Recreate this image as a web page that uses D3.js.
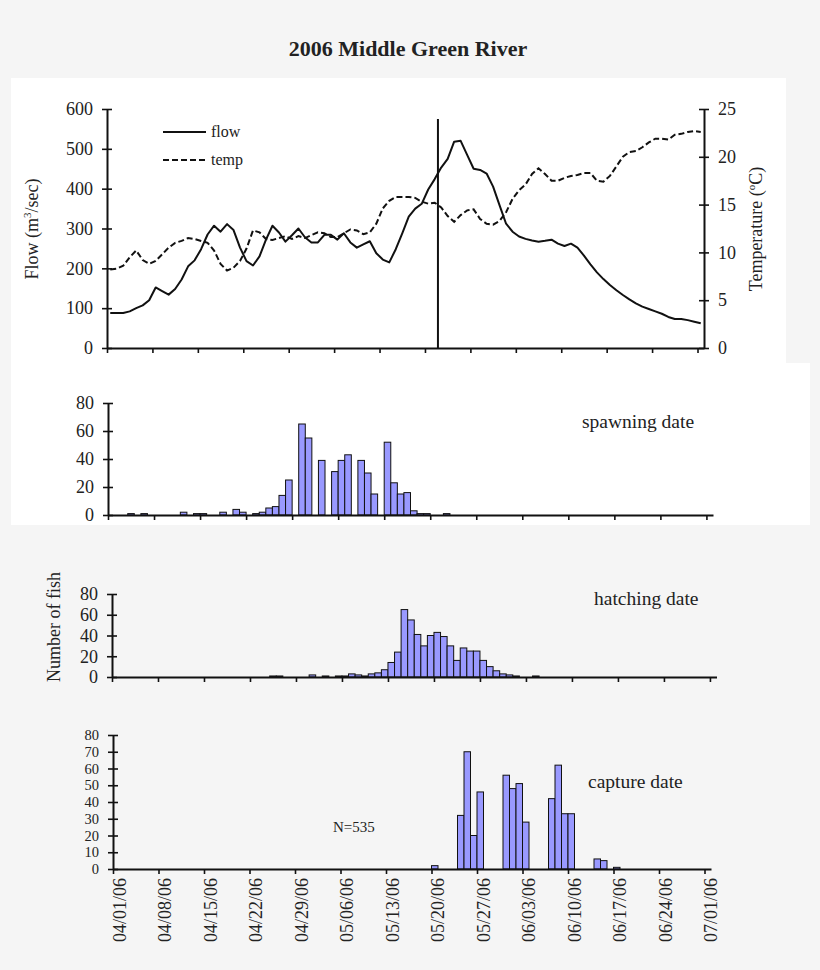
<!DOCTYPE html>
<html>
<head>
<meta charset="utf-8">
<script src="https://cdn.jsdelivr.net/npm/d3@7"></script>
<style>
  body { margin: 0; background: #f5f5f5; }
  svg { display: block; }
  text { font-family: "Liberation Serif", "Times New Roman", serif; fill: #222; }
</style>
</head>
<body>
<script>
// ---- data ----
const startDate = "04/01/06"
const endDate = "07/02/06"
const xTickLabels = ["04/01/06", "04/08/06", "04/15/06", "04/22/06", "04/29/06", "05/06/06", "05/13/06",
    "05/20/06", "05/27/06", "06/03/06", "06/10/06", "06/17/06", "06/24/06", "07/01/06"]

// daily mean flow (m3/sec), 04/01 .. 07/01
const flow = [88, 88, 88, 92, 100, 107, 120, 152, 143, 134, 148, 172, 205, 220, 248, 285, 307, 292, 311, 296,
    252, 218, 207, 230, 272, 307, 290, 267, 283, 300, 278, 265, 265, 284, 284, 272, 288, 265, 252, 260,
    268, 238, 222, 215, 248, 288, 330, 350, 362, 398, 424, 453, 475, 518, 520, 485, 450, 447, 438, 405,
    358, 312, 292, 280, 274, 270, 267, 269, 272, 262, 256, 262, 252, 232, 210, 190, 173, 158, 145, 133,
    122, 112, 104, 98, 92, 86, 78, 73, 73, 70, 66, 62]

// daily mean temperature (C), 04/01 .. 07/01
const temp = [8.2, 8.3, 8.6, 9.5, 10.2, 9.2, 8.8, 9.1, 9.8, 10.5, 11.0, 11.2, 11.5, 11.4, 11.2, 11.0, 10.2, 8.8, 8.1, 8.4,
    9.1, 10.4, 12.3, 12.1, 11.4, 11.3, 11.5, 11.7, 11.4, 11.7, 11.5, 11.8, 12.1, 12.0, 11.6, 11.6, 12.0, 12.4, 12.3, 11.9,
    12.1, 13.0, 14.6, 15.4, 15.8, 15.8, 15.8, 15.7, 15.3, 15.1, 15.2, 14.7, 13.8, 13.2, 13.9, 14.4, 14.5, 13.5, 13.0, 12.9,
    13.3, 14.2, 15.6, 16.5, 17.1, 18.2, 18.8, 18.2, 17.5, 17.5, 17.8, 18.0, 18.1, 18.3, 18.3, 17.5, 17.4, 18.0, 19.0, 20.0,
    20.5, 20.6, 21.0, 21.5, 21.9, 21.9, 21.8, 22.3, 22.4, 22.6, 22.7, 22.6]

const markerDate = "05/22/06"

// number of fish per day, day = days after 04/01/06
const spawnDay = [3, 5, 11, 13, 14, 17, 19, 20, 22, 23, 24, 25, 26, 27, 29, 30, 32, 34, 35, 36, 38, 39, 40, 42, 43, 44, 45, 46, 47, 48, 51]
const spawnCount = [1, 1, 2, 1, 1, 2, 4, 2, 1, 2, 5, 6, 14, 25, 65, 55, 39, 31, 39, 43, 39, 30, 15, 52, 23, 15, 16, 3, 1, 1, 1]

const hatchDay = [24, 25, 30, 32, 34, 35, 36, 37, 38, 39, 40, 41, 42, 43, 44, 45, 46, 47, 48, 49, 50, 51, 52, 53, 54, 55, 56, 57, 58, 59, 60, 61, 64]
const hatchCount = [1, 1, 2, 1, 1, 1, 3, 2, 1, 3, 4, 7, 14, 24, 65, 55, 41, 30, 40, 43, 39, 30, 16, 28, 25, 25, 16, 10, 6, 3, 2, 1, 1]

const captureDay = [49, 53, 54, 55, 56, 60, 61, 62, 63, 67, 68, 69, 70, 74, 75, 77]
const captureCount = [2, 32, 70, 20, 46, 56, 48, 51, 28, 42, 62, 33, 33, 6, 5, 1]

const flowTicks = [0, 100, 200, 300, 400, 500, 600]
const tempTicks = [0, 5, 10, 15, 20, 25]
const fishTicks = [0, 20, 40, 60, 80]
const captureTicks = [0, 10, 20, 30, 40, 50, 60, 70, 80]

// ---- drawing ----
const W = 820, H = 970
const parse = d3.timeParse("%m/%d/%y")
const t0 = parse(startDate), t1 = parse(endDate)
const tickDates = xTickLabels.map(parse)
const dayOf = i => d3.timeDay.offset(t0, i)
const dayMid = i => d3.timeHour.offset(t0, i * 24 + 12)
const FONT = 18

const svg = d3.select("body").append("svg")
    .attr("width", W)
    .attr("height", H)

svg.append("rect").attr("width", W).attr("height", H).attr("fill", "#f5f5f5")
svg.append("rect").attr("x", 11).attr("y", 78).attr("width", 775).attr("height", 285).attr("fill", "#fff")
svg.append("rect").attr("x", 11).attr("y", 363).attr("width", 799).attr("height", 162).attr("fill", "#fff")

svg.append("text")
    .attr("x", 408).attr("y", 56)
    .attr("text-anchor", "middle")
    .attr("font-size", 22).attr("font-weight", "bold")
    .text("2006 Middle Green River")

function styleAxis(g, size) {
    g.attr("font-family", null).attr("font-size", size || FONT)
    g.select(".domain").attr("stroke", "#111").attr("stroke-width", 2)
    g.selectAll(".tick line").attr("stroke", "#111").attr("stroke-width", 1.6)
    g.selectAll(".tick text").attr("fill", "#222")
}

function yAxis(g, scale, ticks, side, size) {
    const ax = (side === "left" ? d3.axisLeft(scale) : d3.axisRight(scale))
        .tickValues(ticks).tickSizeInner(5).tickSizeOuter(0).tickPadding(9)
    g.call(ax).call(g => styleAxis(g, size))
    g.selectAll(".tick line").attr("x1", -5).attr("x2", 5)
}

function xAxis(g, scale, labels) {
    const ax = d3.axisBottom(scale)
        .tickValues(tickDates).tickSizeInner(5).tickSizeOuter(0)
        .tickFormat(labels ? (d, i) => xTickLabels[i] : "")
    g.call(ax).call(g => styleAxis(g))
    if (labels) {
        g.selectAll(".tick text")
            .attr("transform", "rotate(-90)")
            .attr("text-anchor", "end")
            .attr("x", -9).attr("y", 6).attr("dy", "0.35em")
    }
}

// top panel: flow and temperature
{
    const x = d3.scaleTime().domain([t0, t1]).range([107, 704])
    const yF = d3.scaleLinear().domain([0, 600]).range([348, 109])
    const yT = d3.scaleLinear().domain([0, 25]).range([348, 109])

    svg.append("line")
        .attr("x1", x(parse(markerDate))).attr("x2", x(parse(markerDate)))
        .attr("y1", 119).attr("y2", yF(0))
        .attr("stroke", "#111").attr("stroke-width", 2)

    svg.append("path")
        .datum(temp)
        .attr("fill", "none").attr("stroke", "#111").attr("stroke-width", 2)
        .attr("stroke-dasharray", "6,3")
        .attr("d", d3.line().x((d, i) => x(dayMid(i))).y(d => yT(d)))

    svg.append("path")
        .datum(flow)
        .attr("fill", "none").attr("stroke", "#111").attr("stroke-width", 2)
        .attr("stroke-linejoin", "round")
        .attr("d", d3.line().x((d, i) => x(dayMid(i))).y(d => yF(d)))

    svg.append("g").attr("transform", `translate(0,${yF(0)})`).call(g => xAxis(g, x, false))
    svg.append("g").attr("transform", "translate(107,0)").call(g => yAxis(g, yF, flowTicks, "left"))
    svg.append("g").attr("transform", "translate(704,0)").call(g => yAxis(g, yT, tempTicks, "right"))

    // legend
    const lg = svg.append("g").attr("font-size", 16)
    lg.append("line").attr("x1", 163).attr("x2", 206).attr("y1", 132).attr("y2", 132)
        .attr("stroke", "#111").attr("stroke-width", 2)
    lg.append("text").attr("x", 211).attr("y", 137).text("flow")
    lg.append("line").attr("x1", 163).attr("x2", 208).attr("y1", 160).attr("y2", 160)
        .attr("stroke", "#111").attr("stroke-width", 2).attr("stroke-dasharray", "6,3")
    lg.append("text").attr("x", 211).attr("y", 165).text("temp")

    const fl = svg.append("text")
        .attr("transform", "translate(38,229) rotate(-90)")
        .attr("text-anchor", "middle").attr("font-size", FONT)
    fl.append("tspan").text("Flow (m")
    fl.append("tspan").attr("font-size", 11).attr("dy", -7).text("3")
    fl.append("tspan").attr("dy", 7).text("/sec)")

    const tl = svg.append("text")
        .attr("transform", "translate(762,229) rotate(-90)")
        .attr("text-anchor", "middle").attr("font-size", FONT)
    tl.append("tspan").text("Temperature (")
    tl.append("tspan").attr("font-size", 11).attr("dy", -7).text("o")
    tl.append("tspan").attr("dy", 7).text("C)")
}

function histogram(cfg) {
    const x = d3.scaleTime().domain([t0, t1]).range(cfg.xr)
    const y = d3.scaleLinear().domain([0, 80]).range(cfg.yr)
    const data = cfg.days.map((d, i) => ({day: d, n: cfg.counts[i]}))

    svg.append("g").selectAll("rect")
        .data(data)
        .enter()
        .append("rect")
        .attr("x", d => x(dayOf(d.day)))
        .attr("y", d => y(d.n))
        .attr("width", d => x(dayOf(d.day + 1)) - x(dayOf(d.day)))
        .attr("height", d => y(0) - y(d.n))
        .attr("fill", "#9999ff")
        .attr("stroke", "#111").attr("stroke-width", 1)

    svg.append("g").attr("transform", `translate(0,${y(0)})`).call(g => xAxis(g, x, cfg.labels))
    svg.append("g").attr("transform", `translate(${cfg.xr[0]},0)`)
        .call(g => yAxis(g, y, cfg.ticks, "left", cfg.tickFont))

    svg.append("text")
        .attr("x", cfg.title[0]).attr("y", cfg.title[1])
        .attr("font-size", 19.5)
        .text(cfg.name)
}

histogram({name: "spawning date", days: spawnDay, counts: spawnCount,
    xr: [108, 713], yr: [515, 403], ticks: fishTicks, title: [582, 428], labels: false})
histogram({name: "hatching date", days: hatchDay, counts: hatchCount,
    xr: [112, 716.5], yr: [677, 594], ticks: fishTicks, title: [594, 605], labels: false})
histogram({name: "capture date", days: captureDay, counts: captureCount,
    xr: [113, 711], yr: [869, 735], ticks: captureTicks, title: [588, 788], labels: true, tickFont: 14.5})

svg.append("text")
    .attr("transform", "translate(60,627) rotate(-90)")
    .attr("text-anchor", "middle").attr("font-size", FONT)
    .text("Number of fish")

svg.append("text")
    .attr("x", 333).attr("y", 832)
    .attr("font-size", 15)
    .text("N=535")
</script>
</body>
</html>
